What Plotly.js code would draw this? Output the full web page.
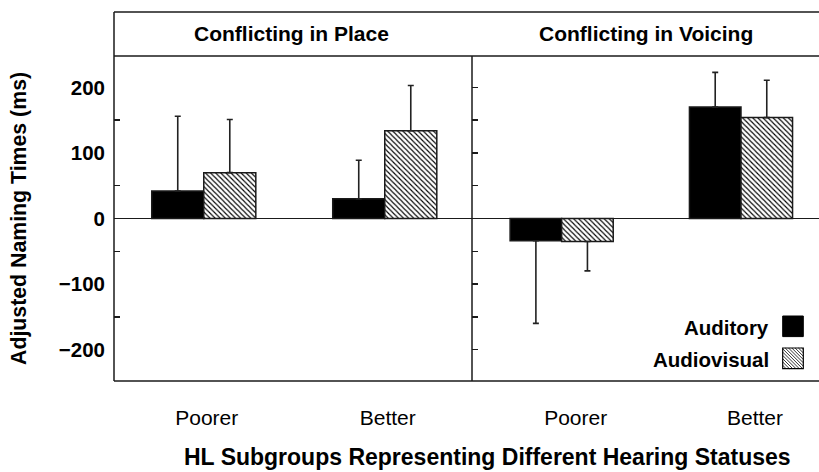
<!DOCTYPE html>
<html>
<head>
<meta charset="utf-8">
<script src="https://cdn.plot.ly/plotly-3.0.1.min.js"></script>
<style>html,body{margin:0;padding:0;background:#fff;}#chart{width:819px;height:472px;}</style>
</head>
<body>
<div id="chart"></div>
<script>
// ---- data ----
const groups = ["Poorer", "Better"];
const panels = ["Conflicting in Place", "Conflicting in Voicing"];
const seriesNames = ["Auditory", "Audiovisual"];
// Conflicting in Place
const placeAuditory = [42, 30];
const placeAuditoryErr = [114, 59];
const placeAudiovisual = [70, 134];
const placeAudiovisualErr = [81, 69];
// Conflicting in Voicing
const voiceAuditory = [-34, 170];
const voiceAuditoryErr = [126, 53];
const voiceAudiovisual = [-35, 154];
const voiceAudiovisualErr = [45, 57];
const yTickVals = [-200, -100, 0, 100, 200];
const yTickText = ["\u2212200", "\u2212100", "0", "100", "200"];
const yMinorVals = [-150, -50, 50, 150];
const yRightTicks = [-200, -150, -100, -50, 50, 100, 150, 200];

const FONT = "Liberation Sans, Arial, Helvetica, sans-serif";
const INK = "#1a1a1a";

// one-sided error bars (outward from zero)
function errPlus(vals, errs) { return vals.map((v, i) => v >= 0 ? errs[i] : 0); }
function errMinus(vals, errs) { return vals.map((v, i) => v < 0 ? errs[i] : 0); }

function barTrace(vals, errs, name, xa, ya, hatched) {
  const marker = hatched
    ? {color: "#fff", line: {color: INK, width: 1.5},
       pattern: {shape: "\\", fgcolor: "#000", bgcolor: "#fff", size: 3.6, solidity: 0.32}}
    : {color: "#000", line: {color: INK, width: 1.5}};
  return {
    type: "bar", x: groups, y: vals, name: name, xaxis: xa, yaxis: ya,
    marker: marker, showlegend: false, hoverinfo: "skip",
    error_y: {type: "data", symmetric: false, array: errPlus(vals, errs),
              arrayminus: errMinus(vals, errs), color: "#222", thickness: 1.6, width: 3}
  };
}

const traces = [
  barTrace(placeAuditory, placeAuditoryErr, seriesNames[0], "x", "y", false),
  barTrace(placeAudiovisual, placeAudiovisualErr, seriesNames[1], "x", "y", true),
  barTrace(voiceAuditory, voiceAuditoryErr, seriesNames[0], "x2", "y2", false),
  barTrace(voiceAudiovisual, voiceAudiovisualErr, seriesNames[1], "x2", "y2", true)
];

// geometry helpers (pixel -> paper)
const W = 819, H = 472, ML = 114, MR = 0, MT = 56, MB = 91;
const PW = W - ML - MR, PH = H - MT - MB;
const px = x => (x - ML) / PW;
const py = y => (H - MB - y) / PH;
const split = px(472);
const headerTop = py(12);

const lineStyle = {color: INK, width: 1.5};
const shapes = [
  {type: "line", xref: "paper", yref: "paper", x0: 0, x1: 1, y0: headerTop, y1: headerTop, line: lineStyle},
  {type: "line", xref: "paper", yref: "paper", x0: 0, x1: 1, y0: 1, y1: 1, line: lineStyle},
  {type: "line", xref: "paper", yref: "paper", x0: 0, x1: 0, y0: 0, y1: headerTop, line: lineStyle},
  {type: "line", xref: "paper", yref: "paper", x0: 0, x1: 1, y0: 0, y1: 0, line: lineStyle},
  {type: "line", xref: "paper", yref: "paper", x0: split, x1: split, y0: 0, y1: 1, line: lineStyle}
];

// legend swatches
const sw = 20.6, swX = 782.7;
const swY = [316, 348];
shapes.push({type: "rect", xref: "paper", yref: "paper", x0: px(swX), x1: px(swX + sw),
  y0: py(swY[0] + sw), y1: py(swY[0]), fillcolor: "#000", line: {color: "#000", width: 1}});
(function () {
  const a = swX, b = swX + sw, c0 = swY[1], d0 = swY[1] + sw;
  let path = "";
  for (let c = a - d0; c <= b - c0; c += 3.3) {
    const yA = Math.max(c0, a - c), yB = Math.min(d0, b - c);
    if (yB - yA > 0.3) {
      path += "M" + px(yA + c) + "," + py(yA) + "L" + px(yB + c) + "," + py(yB);
    }
  }
  shapes.push({type: "path", xref: "paper", yref: "paper", path: path, line: {color: "#000", width: 0.8}});
  shapes.push({type: "rect", xref: "paper", yref: "paper", x0: px(a), x1: px(b), y0: py(d0), y1: py(c0),
    line: {color: "#000", width: 1.2}});
})();

const bold = (size) => ({family: FONT, size: size, color: "#000", weight: 700});
const annotations = [
  {text: panels[0], xref: "paper", yref: "paper", x: px(291), y: py(34),
   showarrow: false, xanchor: "center", yanchor: "middle", font: bold(21)},
  {text: panels[1], xref: "paper", yref: "paper", x: px(646), y: py(34),
   showarrow: false, xanchor: "center", yanchor: "middle", font: bold(21)},
  {text: "Adjusted Naming Times (ms)", xref: "paper", yref: "paper", x: px(19), y: py(219),
   textangle: -90, showarrow: false, xanchor: "center", yanchor: "middle", font: bold(21.3)},
  {text: "HL Subgroups Representing Different Hearing Statuses", xref: "paper", yref: "paper",
   x: px(487), y: py(457), showarrow: false, xanchor: "center", yanchor: "middle", font: bold(23)},
  {text: seriesNames[0], xref: "paper", yref: "paper", x: px(771), y: py(327),
   showarrow: false, xanchor: "right", yanchor: "middle", font: bold(20.5)},
  {text: seriesNames[1], xref: "paper", yref: "paper", x: px(771), y: py(359),
   showarrow: false, xanchor: "right", yanchor: "middle", font: bold(20.5)}
];

const catFont = {family: FONT, size: 21, color: "#000"};
const yRange = [-248, 248];
const layout = {
  width: W, height: H,
  margin: {l: ML, r: MR, t: MT, b: MB, pad: 0},
  paper_bgcolor: "#fff", plot_bgcolor: "#fff",
  barmode: "group", bargap: 0.425, bargroupgap: 0,
  font: {family: FONT, color: "#000"},
  xaxis: {domain: [0, split], anchor: "y", range: [-0.496, 1.482], showgrid: false, zeroline: false,
          showline: false, ticks: "", tickfont: catFont,
          ticklabelstandoff: 22, ticklabelshift: 3, fixedrange: true},
  xaxis2: {domain: [split, 1], anchor: "y2", range: [-0.5, 1.435], showgrid: false, zeroline: false,
           showline: false, ticks: "", tickfont: catFont,
           ticklabelstandoff: 22, ticklabelshift: 14, fixedrange: true},
  yaxis: {domain: [0, 1], anchor: "x", range: yRange, showgrid: false, showline: false,
          zeroline: true, zerolinecolor: INK, zerolinewidth: 1.5,
          tickmode: "array", tickvals: yTickVals, ticktext: yTickText, ticks: "",
          tickfont: bold(20.5), ticklabelstandoff: 8,
          minor: {tickmode: "array", tickvals: yMinorVals, ticks: "inside", ticklen: 6,
                  tickwidth: 1.5, tickcolor: INK, showgrid: false},
          fixedrange: true},
  yaxis2: {domain: [0, 1], anchor: "x2", range: yRange, showgrid: false, showline: false,
           zeroline: true, zerolinecolor: INK, zerolinewidth: 1.5,
           tickmode: "array", tickvals: yRightTicks, showticklabels: false,
           ticks: "inside", ticklen: 6, tickwidth: 1.5, tickcolor: INK, fixedrange: true},
  shapes: shapes,
  annotations: annotations
};

Plotly.newPlot("chart", traces, layout, {displayModeBar: false, staticPlot: true});
</script>
</body>
</html>
